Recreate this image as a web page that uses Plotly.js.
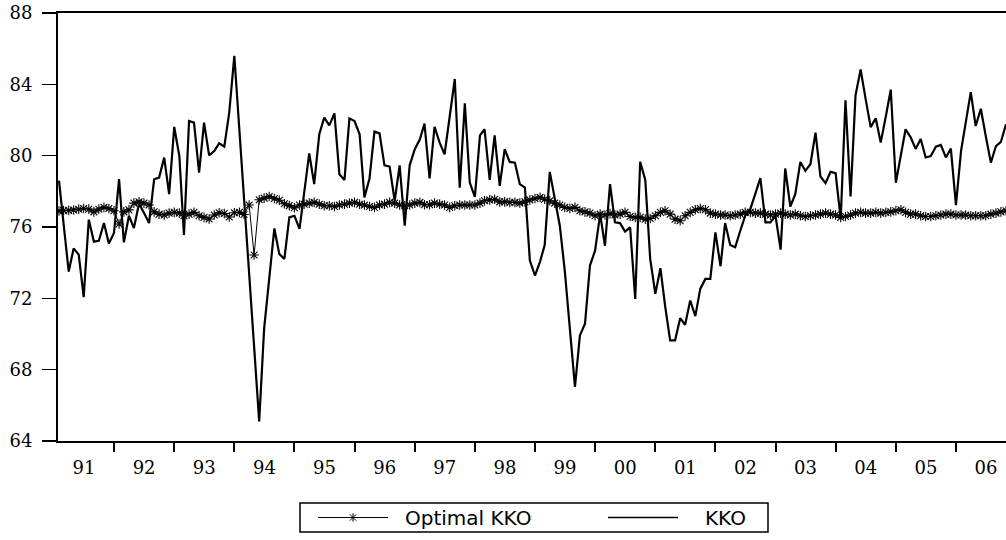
<!DOCTYPE html>
<html><head><meta charset="utf-8">
<script src="https://cdn.plot.ly/plotly-3.0.1.min.js"></script>
<style>html,body{margin:0;padding:0;background:#fff}#chart{width:1006px;height:540px}</style>
</head><body><div id="chart"></div>
<script>
// Monthly observations starting February 1991
const startYear = 1991;
const startMonth = 2;

const kko = [
78.6, 76.1, 73.5, 74.8, 74.45, 72.07, 76.41, 75.18, 75.23, 76.22, 75.07, 75.66,
78.68, 75.14, 76.63, 75.94, 77.3, 76.8, 76.22, 78.68, 78.77, 79.89, 77.84, 81.61,
79.98, 75.55, 81.94, 81.85, 79.05, 81.85, 80.02, 80.26, 80.69, 80.51, 82.41, 85.6,
81.5, 77.4, 73.3, 69.2, 65.1, 70.3, 73.3, 75.92, 74.49, 74.21, 76.54, 76.63,
75.89, 78.0, 80.13, 78.4, 81.2, 82.13, 81.7, 82.37, 78.96, 78.64, 82.09, 81.94,
81.2, 77.66, 78.72, 81.35, 81.25, 79.46, 79.39, 77.47, 79.46, 76.07, 79.46, 80.36,
80.92, 81.8, 78.73, 81.62, 80.73, 80.08, 82.22, 84.3, 78.21, 82.93, 78.49, 77.69,
81.14, 81.48, 78.64, 81.14, 78.31, 80.36, 79.65, 79.61, 78.4, 78.21, 74.12, 73.28,
74.06, 74.99, 79.09, 77.56, 76.07, 73.56, 70.3, 67.03, 69.92, 70.58, 73.84, 74.67,
76.72, 74.95, 78.4, 76.26, 76.22, 75.74, 75.98, 71.97, 79.65, 78.64, 74.21, 72.25,
73.69, 71.6, 69.64, 69.64, 70.89, 70.52, 71.88, 71.0, 72.53, 73.09, 73.09, 75.7,
73.8, 76.22, 74.99, 74.86, 75.79, 76.63, 77.0, 77.84, 78.74, 76.26, 76.26, 76.63,
74.73, 79.28, 77.15, 77.84, 79.65, 79.15, 79.52, 81.29, 78.83, 78.46, 79.09, 79.02,
76.44, 83.11, 77.71, 83.38, 84.83, 83.2, 81.6, 82.09, 80.73, 82.2, 83.7, 78.48,
80.0, 81.48, 81.03, 80.38, 80.93, 79.9, 79.98, 80.5, 80.6, 79.9, 80.4, 77.23,
80.27, 81.85, 83.56, 81.66, 82.63, 81.1, 79.61, 80.54, 80.77, 81.76
];

const optimalKko = [
76.9, 76.92, 76.93, 76.95, 77.0, 77.04, 77.0, 76.85, 77.0, 77.1, 77.04, 76.91,
76.17, 76.85, 76.96, 77.34, 77.41, 77.34, 77.23, 76.85, 76.72, 76.67, 76.78, 76.82,
76.78, 76.63, 76.72, 76.82, 76.63, 76.54, 76.45, 76.67, 76.8, 76.76, 76.56, 76.8,
76.82, 76.7, 77.23, 74.43, 77.53, 77.62, 77.71, 77.6, 77.5, 77.3, 77.2, 77.08,
77.23, 77.28, 77.34, 77.38, 77.28, 77.19, 77.19, 77.15, 77.23, 77.28, 77.34, 77.38,
77.28, 77.23, 77.15, 77.1, 77.23, 77.28, 77.38, 77.34, 77.23, 77.19, 77.23, 77.34,
77.38, 77.25, 77.25, 77.34, 77.28, 77.23, 77.1, 77.19, 77.23, 77.23, 77.23, 77.23,
77.34, 77.47, 77.52, 77.56, 77.41, 77.41, 77.38, 77.38, 77.34, 77.41, 77.52, 77.6,
77.66, 77.56, 77.47, 77.34, 77.23, 77.1, 77.04, 77.1, 76.91, 76.85, 76.78, 76.63,
76.72, 76.67, 76.75, 76.67, 76.72, 76.82, 76.59, 76.54, 76.54, 76.44, 76.48, 76.63,
76.82, 76.91, 76.72, 76.44, 76.35, 76.63, 76.82, 76.97, 77.04, 76.97, 76.78, 76.72,
76.67, 76.67, 76.63, 76.67, 76.72, 76.82, 76.82, 76.78, 76.78, 76.72, 76.67, 76.72,
76.78, 76.72, 76.67, 76.72, 76.63, 76.59, 76.63, 76.67, 76.72, 76.78, 76.72, 76.67,
76.54, 76.59, 76.67, 76.78, 76.82, 76.78, 76.78, 76.82, 76.78, 76.82, 76.85, 76.91,
76.97, 76.82, 76.72, 76.72, 76.63, 76.59, 76.59, 76.63, 76.67, 76.72, 76.72, 76.67,
76.67, 76.67, 76.63, 76.63, 76.63, 76.63, 76.72, 76.78, 76.85, 76.91
];

const yTickVals = [64, 68, 72, 76, 80, 84, 88];
const seriesNames = ['Optimal KKO', 'KKO'];

const dates = kko.map(function (_, i) {
  const t = startMonth - 1 + i;
  const y = startYear + Math.floor(t / 12);
  const m = (t % 12) + 1;
  return y + '-' + String(m).padStart(2, '0') + '-01';
});

const W = 1006, H = 540;
const M = {l: 58, r: 0, t: 13, b: 99};
const plotW = W - M.l - M.r, plotH = H - M.t - M.b;
// pixel -> paper helpers for the hand-drawn legend box
function px(x) { return (x - M.l) / plotW; }
function py(y) { return (H - M.b - y) / plotH; }

const legY = 517.5;
const starX = 353, arm = 4.2;
const starPath =
  'M' + px(starX) + ',' + py(legY - arm) + 'L' + px(starX) + ',' + py(legY + arm) +
  'M' + px(starX - arm * 0.75) + ',' + py(legY - arm * 0.75) + 'L' + px(starX + arm * 0.75) + ',' + py(legY + arm * 0.75) +
  'M' + px(starX - arm * 0.75) + ',' + py(legY + arm * 0.75) + 'L' + px(starX + arm * 0.75) + ',' + py(legY - arm * 0.75);

const shapes = [
  {type: 'rect', xref: 'paper', yref: 'paper', x0: px(300), x1: px(768), y0: py(532), y1: py(503),
   line: {color: '#000', width: 1.5}, fillcolor: 'rgba(0,0,0,0)'},
  {type: 'line', xref: 'paper', yref: 'paper', x0: px(318), x1: px(388), y0: py(legY), y1: py(legY),
   line: {color: '#000', width: 1}},
  {type: 'path', xref: 'paper', yref: 'paper', path: starPath, line: {color: '#000', width: 1}},
  {type: 'line', xref: 'paper', yref: 'paper', x0: px(608), x1: px(678), y0: py(legY), y1: py(legY),
   line: {color: '#000', width: 1.3}}
];

const annotations = [
  {xref: 'paper', yref: 'paper', x: px(403), y: py(legY), xanchor: 'left', yanchor: 'middle',
   text: seriesNames[0], showarrow: false, font: {family: 'DejaVu Sans', size: 20, color: '#000'}},
  {xref: 'paper', yref: 'paper', x: px(703), y: py(legY), xanchor: 'left', yanchor: 'middle',
   text: seriesNames[1], showarrow: false, font: {family: 'DejaVu Sans', size: 20, color: '#000'}}
];

const traces = [
  {
    x: dates, y: optimalKko, name: seriesNames[0], type: 'scatter', mode: 'lines+markers',
    line: {color: '#000', width: 1},
    marker: {symbol: 'asterisk-open', size: 8, color: '#000', line: {color: '#000', width: 1.1}}
  },
  {
    x: dates, y: kko, name: seriesNames[1], type: 'scatter', mode: 'lines',
    line: {color: '#000', width: 2.2}
  }
];

const layout = {
  width: W, height: H,
  margin: {l: M.l, r: M.r, t: M.t, b: M.b, pad: 0},
  paper_bgcolor: '#fff', plot_bgcolor: '#fff',
  showlegend: false,
  xaxis: {
    type: 'date', range: ['1991-01-26', dates[dates.length - 1]],
    tick0: '1991-01-01', dtick: 'M12', tickformat: '%y', ticklabelmode: 'period',
    ticks: 'outside', ticklen: 9, tickwidth: 2, tickcolor: '#000',
    showline: true, linewidth: 2, linecolor: '#000', mirror: true,
    showgrid: false, zeroline: false,
    tickfont: {family: 'DejaVu Serif', size: 18, color: '#000'}
  },
  yaxis: {
    range: [64, 88], tickvals: yTickVals, ticktext: yTickVals.map(String),
    ticks: 'outside', ticklen: 14, tickwidth: 1.5, tickcolor: '#000',
    showline: true, linewidth: 2, linecolor: '#000',
    showgrid: false, zeroline: false, ticklabelstandoff: 6,
    tickfont: {family: 'DejaVu Serif', size: 18, color: '#000'}
  },
  shapes: shapes,
  annotations: annotations
};

Plotly.newPlot('chart', traces, layout, {displayModeBar: false, staticPlot: true});
</script>
</body></html>
